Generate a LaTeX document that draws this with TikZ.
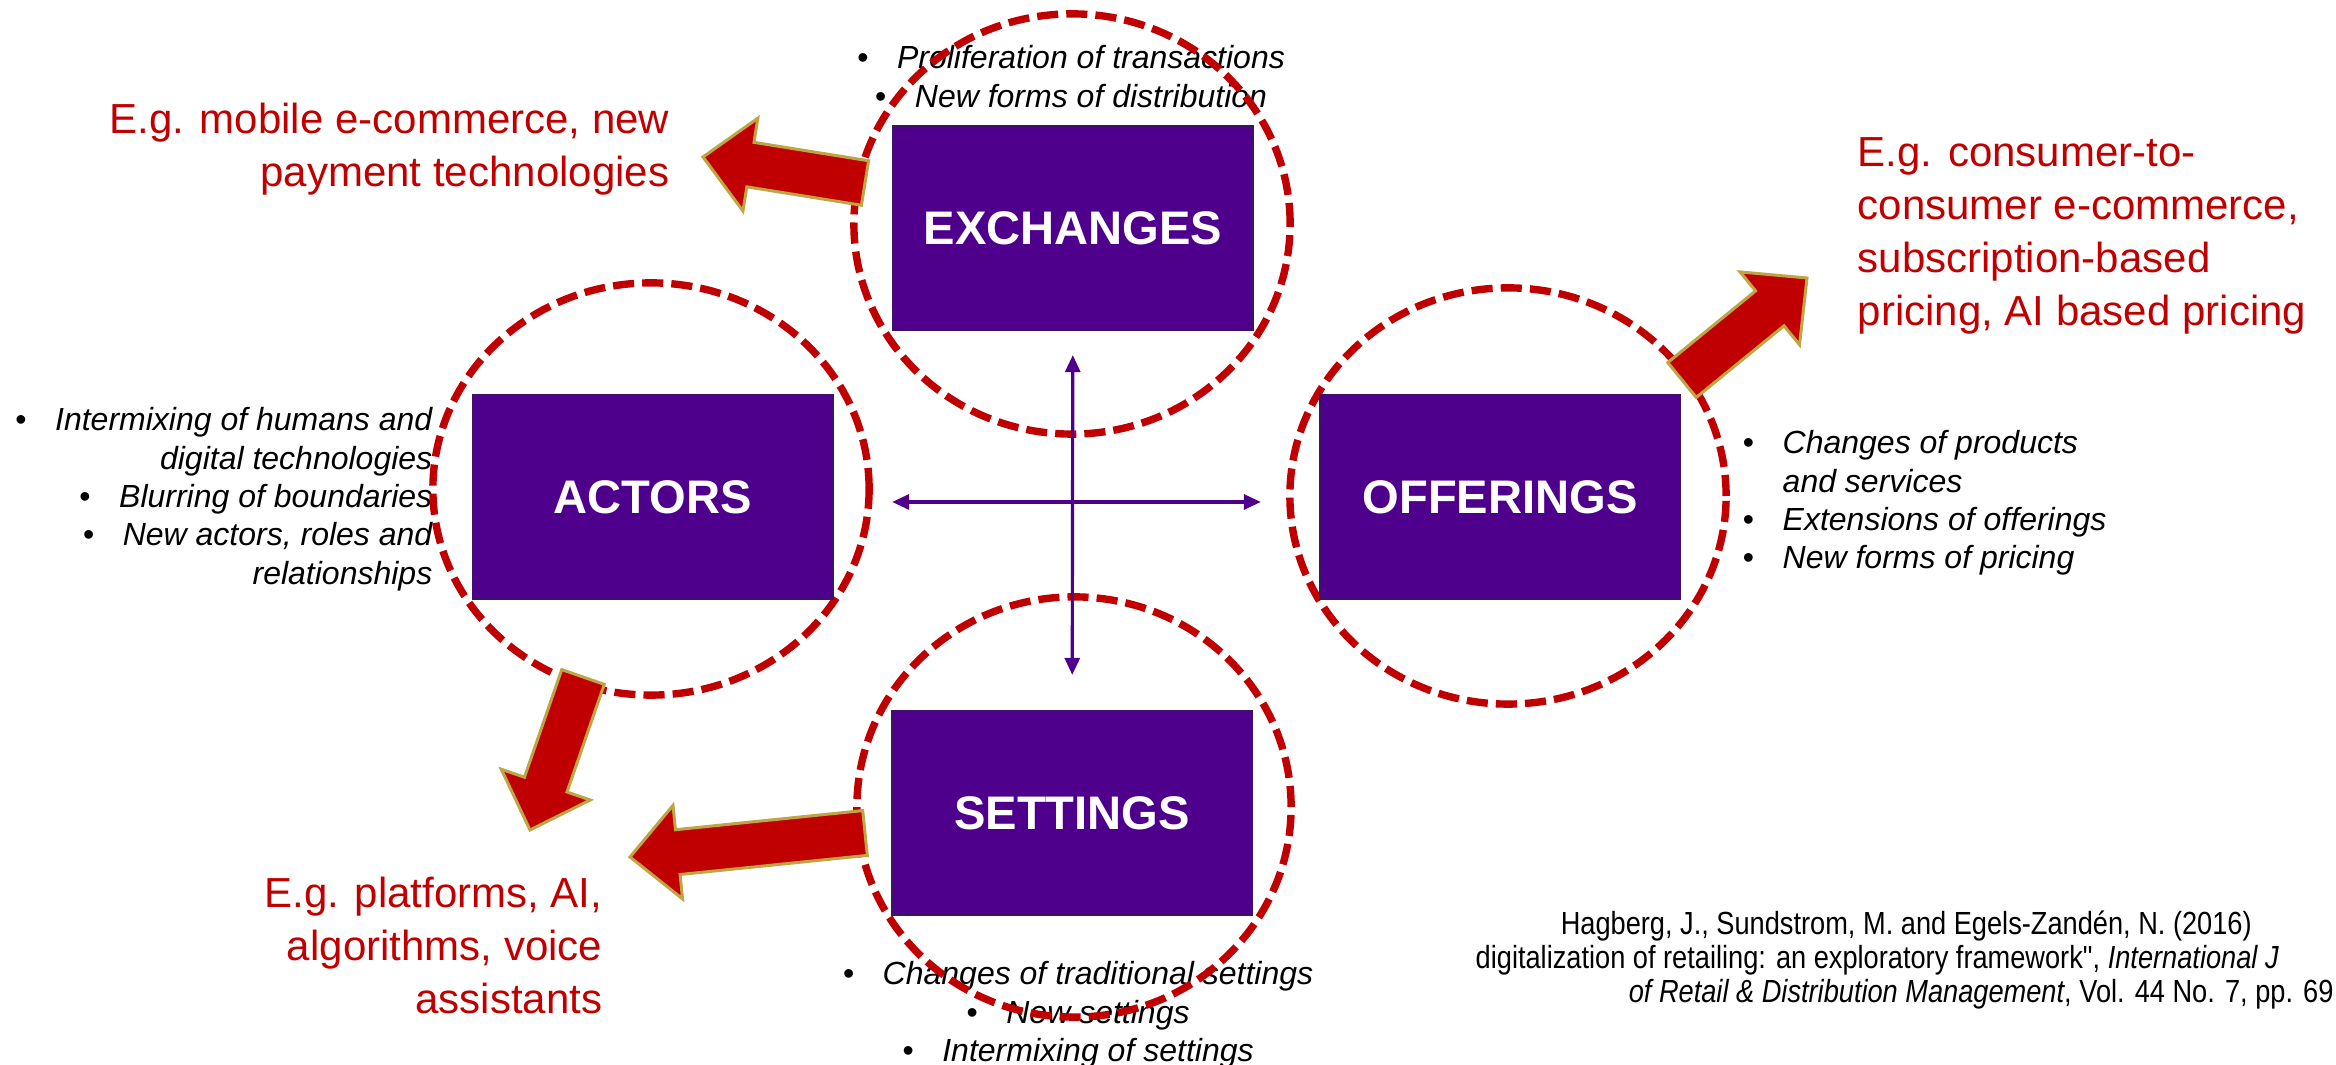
\documentclass[tikz,border=0pt]{standalone}
\usepackage{fontspec}
\setmainfont{Liberation Sans}
\newfontfamily\narrowfont[FakeStretch=0.85]{Liberation Sans}
\usetikzlibrary{arrows.meta, calc}
\definecolor{boxpurple}{HTML}{4E008C}
\definecolor{boxedge}{HTML}{3A1366}
\definecolor{ringred}{HTML}{C00000}
\definecolor{arrowgold}{HTML}{BFA543}
\newcommand{\bul}{\makebox[1.25em][l]{\textbullet}}
% fat red arrow from tail point #1 to tip point #2
\newcommand{\blockarrow}[2]{%
  \coordinate (hb) at ($(#2)!0.48cm!(#1)$);
  \draw[redarrow] ($(#1)!0.225cm!90:(#2)$) -- ($(hb)!0.225cm!-90:(#1)$)
    -- ($(hb)!0.47cm!-90:(#1)$) -- (#2) -- ($(hb)!0.47cm!90:(#1)$)
    -- ($(hb)!0.225cm!90:(#1)$) -- ($(#1)!0.225cm!-90:(#2)$) -- cycle;
}

\begin{document}
\begin{tikzpicture}[
  x=0.01cm, y=-0.01cm,
  every node/.style = {inner sep=0pt},
  dimbox/.style = {fill=boxpurple, draw=boxedge, line width=0.6pt, minimum width=3.6cm, minimum height=2.04cm, text=white, font=\bfseries\fontsize{13.4}{16}\selectfont},
  ring/.style = {draw=ringred, line width=2.1pt, dash pattern=on 6pt off 2.3pt},
  example/.style = {text=ringred, font=\fontsize{11.95}{15.1}\selectfont},
  trend/.style = {font=\itshape\fontsize{9.1}{10.9}\selectfont},
  cite/.style = {font=\narrowfont\fontsize{9.1}{9.7}\selectfont, align=left},
  redarrow/.style = {fill=ringred, draw=arrowgold, line width=0.85pt, line join=miter},
  axis/.style = {draw=boxpurple, line width=0.9pt, {Triangle[length=0.17cm,width=0.15cm]}-{Triangle[length=0.17cm,width=0.15cm]}}
]
  \fill[white] (0,0) rectangle (2336,1065);
  \useasboundingbox (0,0) rectangle (2336,1065);

  % examples in red
  \node[example, align=right, anchor=north east] (exEg) at (670,102) {E.g. mobile e-commerce, new\\payment technologies};
  \node[example, align=left, anchor=north west] (offEg) at (1857,137) {E.g. consumer-to-\\consumer e-commerce,\\subscription-based\\pricing, AI based pricing};
  \node[example, align=right, anchor=north east] (actEg) at (603,876) {E.g. platforms, AI,\\algorithms, voice\\assistants};

  % bullet lists
  \node[trend, align=center, anchor=north] (exTrend) at (1071,45) {\bul Proliferation of transactions\\\bul New forms of distribution};
  \node[trend, align=right, anchor=north east] (actTrend) at (433,407) {\bul Intermixing of humans and\\digital technologies\\\bul Blurring of boundaries\\\bul New actors, roles and\\relationships};
  \node[trend, align=left, anchor=north west] (offTrend) at (1742,430) {\bul Changes of products\\\hspace*{1.25em}and services\\\bul Extensions of offerings\\\bul New forms of pricing};
  \node[trend, align=center, anchor=north] (setTrend) at (1078,961) {\bul Changes of traditional settings\\\bul New settings\\\bul Intermixing of settings};

  \node[cite, anchor=north west] (ref) at (1475,910) {\hspace*{0.85cm}Hagberg, J., Sundstrom, M. and Egels-Zandén, N. (2016)\\digitalization of retailing: an exploratory framework", \textit{International J}\\\hspace*{1.53cm}\textit{of Retail \& Distribution Management}, Vol. 44 No. 7, pp. 69};

  % dashed rings
  \draw[ring] (1072,224) ellipse[x radius=2.18cm, y radius=2.1cm];
  \draw[ring] (651,489) ellipse[x radius=2.18cm, y radius=2.06cm];
  \draw[ring] (1508,496) ellipse[x radius=2.18cm, y radius=2.08cm];
  \draw[ring] (1074,807) ellipse[x radius=2.17cm, y radius=2.1cm];

  % red arrows
  \coordinate (exTail) at (865,183);  \coordinate (exTip) at (703,157);
  \coordinate (offTail) at (1682,380); \coordinate (offTip) at (1807,278);
  \coordinate (actTail) at (583,677); \coordinate (actTip) at (530,830);
  \coordinate (setTail) at (865,833); \coordinate (setTip) at (630,857);
  \blockarrow{exTail}{exTip}
  \blockarrow{offTail}{offTip}
  \blockarrow{actTail}{actTip}
  \blockarrow{setTail}{setTip}

  \node[dimbox] (exchanges) at (1073,228) {EXCHANGES};
  \node[dimbox] (actors) at (653,497) {ACTORS};
  \node[dimbox] (offerings) at (1500,497) {OFFERINGS};
  \node[dimbox] (settings) at (1072,813) {SETTINGS};

  \draw[axis, shorten <=0.58cm, shorten >=0.58cm] ([yshift=-0.05cm]actors.east) -- ([yshift=-0.05cm]offerings.west);
  \draw[axis, shorten <=0.24cm, shorten >=0.35cm] (exchanges) -- (settings);
\end{tikzpicture}
\end{document}
